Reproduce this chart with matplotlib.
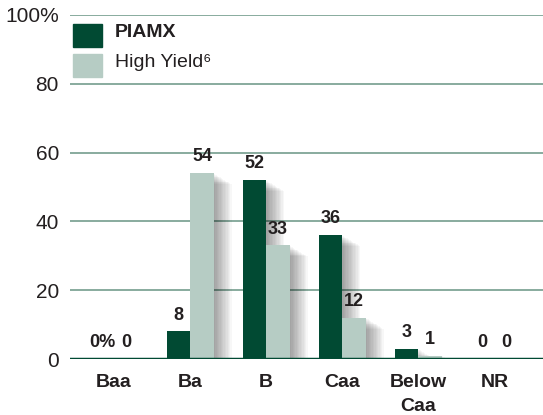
import matplotlib
matplotlib.use("Agg")
import matplotlib.pyplot as plt
import matplotlib.patheffects as pe
from matplotlib.patches import Rectangle
import numpy as np

categories = ["Baa", "Ba", "B", "Caa", "Below\nCaa", "NR"]
piamx = [0, 8, 52, 36, 3, 0]
high_yield = [0, 54, 33, 12, 1, 0]
piamx_labels = ["0%", "8", "52", "36", "3", "0"]
hy_labels = ["0", "54", "33", "12", "1", "0"]
yticks = [0, 20, 40, 60, 80, 100]
ytick_labels = ["0", "20", "40", "60", "80", "100%"]
series_names = ["PIAMX", "High Yield\u2076"]

dark = "#014a33"
light = "#b6ccc4"
grid_c = "#7fa596"
txt = "#231f20"

plt.rcParams['font.family'] = ['Liberation Sans', 'DejaVu Sans']

fig = plt.figure(figsize=(5.43, 4.15), dpi=100)
ax = fig.add_axes([70/543, 56/415, 1 - 70/543, (359-15)/415])

x = np.arange(len(categories))
w = 0.31

shadow = [pe.SimplePatchShadow(offset=(d, -d*0.6), shadow_rgbFace="black", alpha=0.03)
          for d in np.arange(1, 14, 1)]
shadow_effects = shadow + [pe.Normal()]

for yv in yticks[1:]:
    ax.axhline(yv, color=grid_c, lw=1.3, zorder=1)

b1 = ax.bar(x - w/2, piamx, w, color=dark, zorder=3)
b2 = ax.bar(x + w/2, high_yield, w, color=light, zorder=3)
for b in list(b1) + list(b2):
    if b.get_height() > 0:
        b.set_path_effects(shadow_effects)

ax.axhline(0, color=dark, lw=2.5, zorder=4)

for xi, v, t in zip(x, piamx, piamx_labels):
    ax.text(xi - w/2, v + 2.3, t, ha='center', va='bottom', fontsize=13, fontweight='bold', color=txt, zorder=5)
for xi, v, t in zip(x, high_yield, hy_labels):
    ax.text(xi + w/2, v + 2.3, t, ha='center', va='bottom', fontsize=13, fontweight='bold', color=txt, zorder=5)

ax.set_xlim(-0.58, 5.64)
ax.set_ylim(0, 100)
ax.set_yticks(yticks)
ax.set_yticklabels(ytick_labels, fontsize=15, color=txt)
ax.set_xticks(x)
ax.set_xticklabels(categories, fontsize=14, fontweight='bold', color=txt, linespacing=1.55)
ax.tick_params(axis='both', length=0)
ax.tick_params(axis='y', pad=8)
ax.tick_params(axis='x', pad=11)
for s in ax.spines.values():
    s.set_visible(False)

# legend
ax.add_patch(Rectangle((0.006, 0.907), 0.062, 0.067, transform=ax.transAxes, color=dark, zorder=5, clip_on=False))
ax.add_patch(Rectangle((0.006, 0.820), 0.062, 0.067, transform=ax.transAxes, color=light, zorder=5, clip_on=False))
ax.text(0.095, 0.949, series_names[0], transform=ax.transAxes, fontsize=14, fontweight='bold', va='center', color=txt)
ax.text(0.095, 0.862, series_names[1], transform=ax.transAxes, fontsize=14, va='center', color=txt)

fig.savefig("out.png", dpi=100)
